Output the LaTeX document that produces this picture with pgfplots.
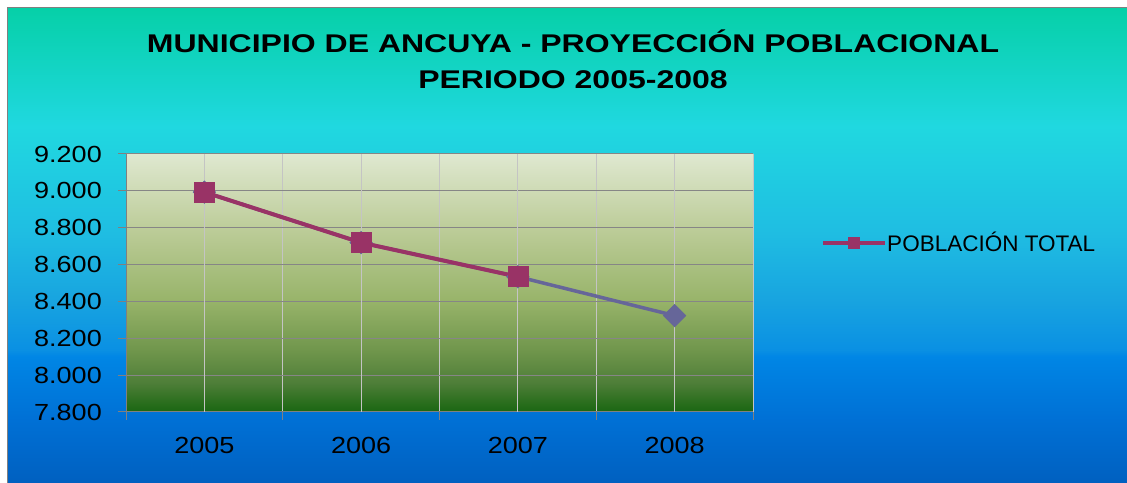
\documentclass[border=0pt]{standalone}
\usepackage{pgfplots}
\pgfplotsset{compat=1.18}
\usepackage{fontspec}
\setmainfont{Liberation Sans}
\newfontfamily\titlefont[FakeStretch=1.25]{Liberation Sans}
\newfontfamily\tickfont[FakeStretch=1.16]{Liberation Sans}

\definecolor{bgA}{HTML}{0060C0}
\definecolor{bgB}{HTML}{0070D5}
\definecolor{bgC}{HTML}{0086E5}
\definecolor{bgD}{HTML}{0A90E3}
\definecolor{bgE}{HTML}{18A4E0}
\definecolor{bgF}{HTML}{1FBDE2}
\definecolor{bgG}{HTML}{20D8E0}
\definecolor{bgH}{HTML}{06D0A8}
\pgfdeclareverticalshading{bgshade}{100bp}{color(0bp)=(bgA); color(25bp)=(bgA); color(31.6bp)=(bgB); color(38.3bp)=(bgC); color(39bp)=(bgD); color(44.3bp)=(bgE); color(51.3bp)=(bgF); color(62.5bp)=(bgG); color(75bp)=(bgH); color(100bp)=(bgH)}

\definecolor{pA}{HTML}{1A6612}
\definecolor{pB}{HTML}{2E7020}
\definecolor{pC}{HTML}{4E7E38}
\definecolor{pD}{HTML}{70964C}
\definecolor{pE}{HTML}{98B46A}
\definecolor{pF}{HTML}{BCCC98}
\definecolor{pG}{HTML}{DFE8D0}
\pgfdeclareverticalshading{plotshade}{100bp}{color(0bp)=(pA); color(25bp)=(pA); color(27.3bp)=(pB); color(30.6bp)=(pC); color(37bp)=(pD); color(46.7bp)=(pE); color(60.3bp)=(pF); color(75bp)=(pG); color(100bp)=(pG)}

\definecolor{maroonline}{HTML}{993366}
\definecolor{blueline}{HTML}{666699}
\definecolor{darkgrid}{HTML}{868686}
\definecolor{lightgrid}{HTML}{C4C4C4}
\definecolor{frame}{HTML}{808080}

\pgfplotstableread{
x y
1 8993
2 8719
3 8534
4 8323
}\blueseries
\pgfplotstableread{
x y
1 8993
2 8719
3 8534
}\maroonseries

\begin{document}
\begin{tikzpicture}[x=1bp,y=1bp]
\path[use as bounding box] (0,0) rectangle (1127,483);
\fill[white] (0,0) rectangle (1127,483);
\shade[shading=bgshade] (7,0) rectangle (1127,475);
\draw[frame, line width=1bp] (7.5,0) -- (7.5,475.5) -- (1127,475.5);

\node[anchor=base, font=\titlefont\bfseries\fontsize{25.6bp}{30bp}\selectfont] at (573,430) {MUNICIPIO DE ANCUYA - PROYECCIÓN POBLACIONAL};
\node[anchor=base, font=\titlefont\bfseries\fontsize{25.6bp}{30bp}\selectfont] at (573,394) {PERIODO 2005-2008};

\begin{axis}[
  at={(126bp,71bp)}, anchor=south west,
  scale only axis, width=627bp, height=258bp,
  xmin=0.5, xmax=4.5, ymin=7800, ymax=9200,
  axis x line*=bottom, axis y line*=left,
  axis line style={draw=frame, line width=1bp},
  xtick={0.5,1.5,2.5,3.5,4.5}, xticklabels={},
  extra x ticks={1,2,3,4},
  extra x tick labels={2005,2006,2007,2008},
  extra x tick style={grid=major, major tick length=0pt},
  ytick={7800,8000,8200,8400,8600,8800,9000,9200},
  yticklabels={7.800,8.000,8.200,8.400,8.600,8.800,9.000,9.200},
  xmajorgrids, ymajorgrids,
  x grid style={draw=lightgrid, line width=1bp},
  y grid style={draw=darkgrid, line width=1bp},
  tick align=outside, major tick length=8bp,
  tick style={draw=frame, line width=1bp},
  yticklabel style={font=\tickfont\fontsize{23.3bp}{27bp}\selectfont, anchor=east, inner sep=0pt, xshift=-16bp},
  xticklabel style={font=\tickfont\fontsize{23.3bp}{27bp}\selectfont, anchor=north, inner sep=0pt, yshift=-25bp},
  axis background/.style={shade, shading=plotshade, draw=none},
  legend style={at={(1.1085,0.656)}, anchor=west, draw=none, fill=none,
    font=\fontsize{22.5bp}{26bp}\selectfont, inner sep=0pt,
    nodes={inner sep=0pt},
    /tikz/every even column/.append style={column sep=7bp}},
  legend cell align=left,
  legend image code/.code={\draw[#1, mark repeat=2, mark phase=2, mark size=5.5bp] plot coordinates {(0bp,0bp) (31bp,0bp) (62bp,0bp)};},
]
\addplot[forget plot, draw=blueline, line width=3.5bp, mark=square*, mark size=8bp,
  mark options={rotate=45, fill=blueline, draw=blueline, line width=0.5bp}] table[x=x,y=y] {\blueseries};
\addplot[draw=maroonline, line width=4bp, mark=square*, mark size=10bp,
  mark options={fill=maroonline, draw=maroonline, line width=0.5bp}] table[x=x,y=y] {\maroonseries};
\addlegendentry{POBLACIÓN TOTAL}
\end{axis}
\end{tikzpicture}
\end{document}
